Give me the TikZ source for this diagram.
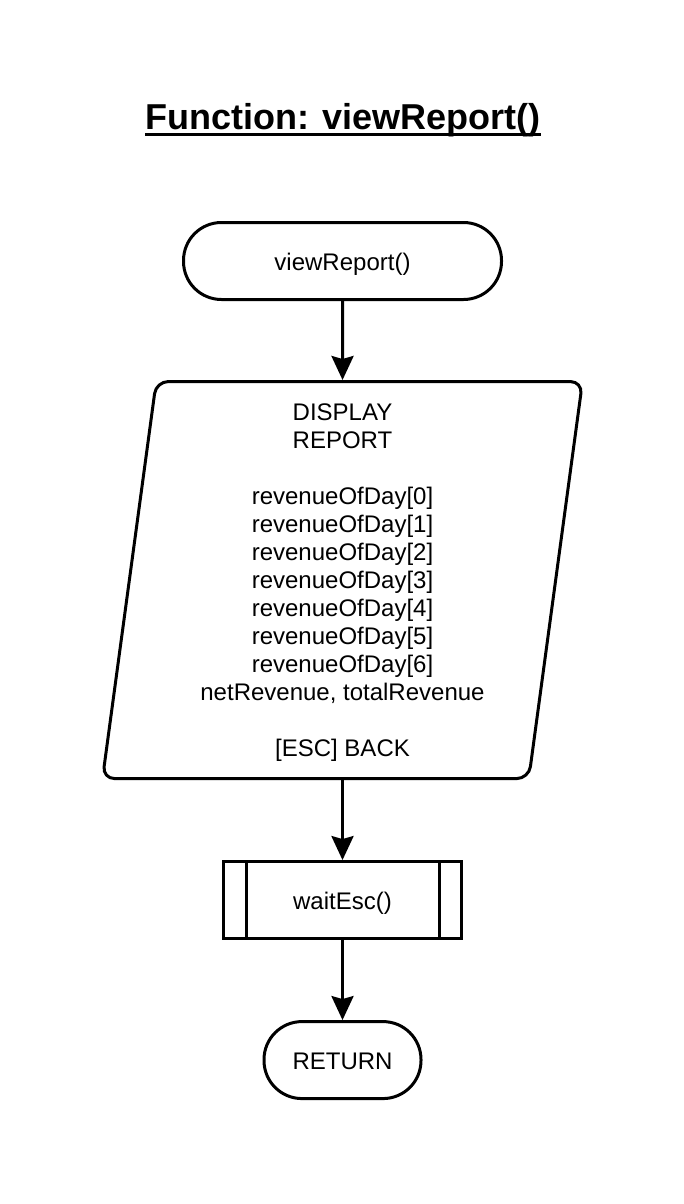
\documentclass[tikz,border=0pt]{standalone}
\usepackage{fontspec}
\setmainfont{Liberation Sans}
\usetikzlibrary{arrows.meta,positioning,shapes.geometric}
\newcommand{\titleline}[1]{\setbox0\hbox{#1}\rlap{\rule[-6pt]{\wd0}{3pt}}\box0}
\tikzstyle{every node}=[font=\fontsize{24}{28}\selectfont]
\tikzstyle{terminal}=[draw,line width=3pt,rounded corners=38pt,minimum height=77pt,text height=22pt,text depth=4pt]
\tikzstyle{io}=[draw,line width=3pt,trapezium,trapezium left angle=81.5,trapezium right angle=98.5,
  trapezium stretches body,rounded corners=12pt,minimum width=480pt,minimum height=397pt,align=center,text depth=0pt]
\tikzstyle{subproc}=[draw,line width=3pt,minimum width=238pt,minimum height=77pt,text height=22pt,text depth=4pt]
\tikzstyle{flow}=[line width=3pt,-{Stealth[length=24pt,width=22pt,inset=3pt]}]

\begin{document}
\begin{tikzpicture}[x=1pt,y=-1pt,node distance=80pt]
  \useasboundingbox (0,0) rectangle (684,1204);
  \node (title) at (343,130) [anchor=base,font=\bfseries\fontsize{36}{40}\selectfont]
        {\titleline{Function: viewReport()}};

  \node[terminal,minimum width=318pt] (start) at (342.5,261) {viewReport()};
  \node[io]       (report) [below=79pt of start]
        {DISPLAY\\REPORT\\[28pt]revenueOfDay[0]\\revenueOfDay[1]\\revenueOfDay[2]\\revenueOfDay[3]\\
         revenueOfDay[4]\\revenueOfDay[5]\\revenueOfDay[6]\\netRevenue, totalRevenue\\[28pt][ESC] BACK};
  \node[subproc]  (wait) [below=of report] {waitEsc()};
  \node[terminal,minimum width=157pt] (ret) [below=of wait] {RETURN};

  % inner bars of the subroutine box
  \draw[line width=3pt] ([xshift=24pt]wait.north west) -- ([xshift=24pt]wait.south west);
  \draw[line width=3pt] ([xshift=-24pt]wait.north east) -- ([xshift=-24pt]wait.south east);

  \draw[flow] (start) -- (report);
  \draw[flow] (report) -- (wait);
  \draw[flow] (wait) -- (ret);
\end{tikzpicture}
\end{document}
